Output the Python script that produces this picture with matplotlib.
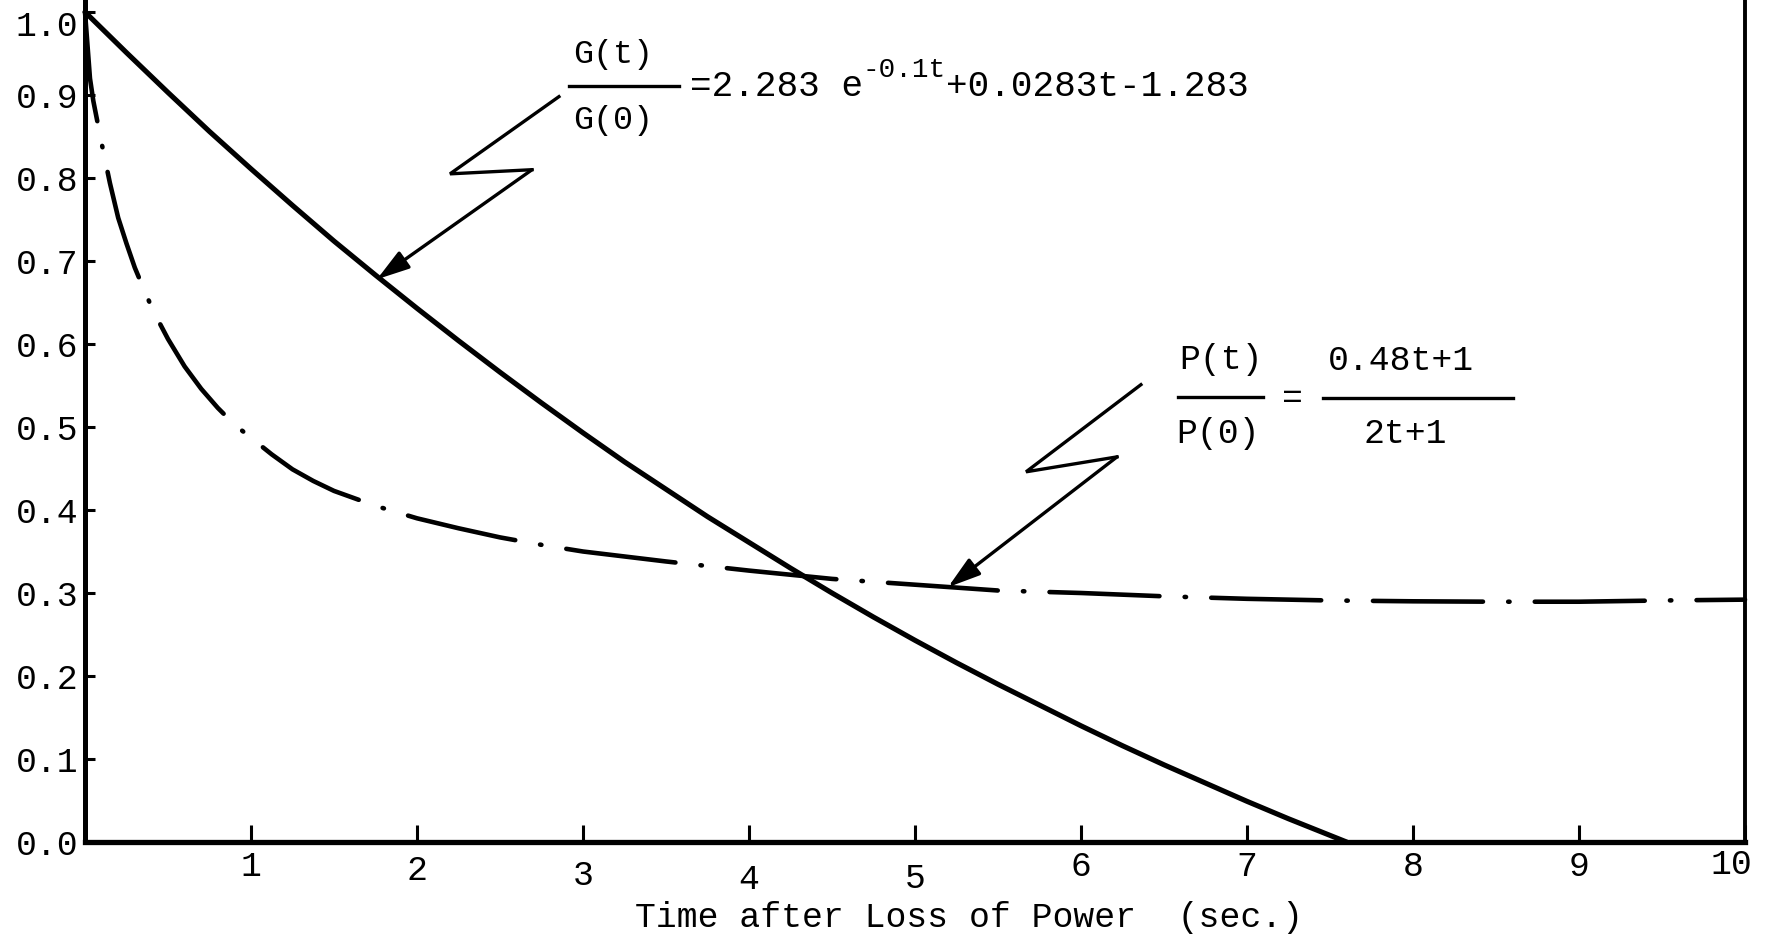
import matplotlib
matplotlib.use("Agg")
import matplotlib.pyplot as plt
from matplotlib.lines import Line2D
from matplotlib.transforms import ScaledTranslation

# ---- data -------------------------------------------------------------
# Normalised flow G(t)/G(0) (solid curve)
g_time = [0.0, 0.25, 0.5, 0.75, 1.0, 1.25, 1.5, 1.75, 2.0, 2.25, 2.5, 2.75,
          3.0, 3.25, 3.5, 3.75, 4.0, 4.25, 4.5, 4.75, 5.0, 5.25, 5.5, 5.75,
          6.0, 6.25, 6.5, 6.75, 7.0, 7.25, 7.5, 7.6]
g_ratio = [1.0, 0.951, 0.903, 0.856, 0.811, 0.767, 0.724, 0.683, 0.643, 0.604,
           0.566, 0.529, 0.493, 0.458, 0.425, 0.392, 0.361, 0.330, 0.300, 0.271,
           0.243, 0.216, 0.190, 0.165, 0.140, 0.116, 0.093, 0.071, 0.049, 0.028,
           0.008, 0.0]

# Normalised power P(t)/P(0) (dash-dot curve)
p_time = [0.0, 0.03, 0.05, 0.10, 0.15, 0.20, 0.25, 0.30, 0.35, 0.40, 0.45,
          0.50, 0.60, 0.70, 0.80, 0.90, 1.00, 1.125, 1.25, 1.375, 1.50, 1.75,
          2.00, 2.25, 2.50, 2.75, 3.00, 3.50, 4.00, 4.50, 5.00, 5.50, 6.00,
          6.50, 7.00, 7.50, 8.00, 8.50, 9.00, 9.50, 10.0]
p_ratio = [1.0, 0.920, 0.893, 0.842, 0.794, 0.752, 0.721, 0.692, 0.668, 0.645,
           0.625, 0.606, 0.573, 0.546, 0.523, 0.503, 0.487, 0.467, 0.449, 0.435,
           0.423, 0.405, 0.390, 0.378, 0.367, 0.358, 0.350, 0.338, 0.327, 0.317,
           0.310, 0.303, 0.300, 0.296, 0.293, 0.291, 0.290, 0.2895, 0.2895,
           0.291, 0.292]

x_ticks = [1, 2, 3, 4, 5, 6, 7, 8, 9, 10]
x_tick_labels = ["1", "2", "3", "4", "5", "6", "7", "8", "9", "10"]
y_ticks = [0.0, 0.1, 0.2, 0.3, 0.4, 0.5, 0.6, 0.7, 0.8, 0.9, 1.0]
y_tick_labels = ["0.0", "0.1", "0.2", "0.3", "0.4", "0.5", "0.6", "0.7", "0.8", "0.9", "1.0"]

x_label = "Time after Loss of Power  (sec.)"

# zig-zag leader lines: (t, ratio) vertices, last one is the arrow tip
g_leader = [(2.855, 0.898), (2.199, 0.805), (2.693, 0.810), (1.759, 0.678)]
p_leader = [(6.361, 0.551), (5.669, 0.446), (6.217, 0.464), (5.199, 0.307)]

# ---- figure -----------------------------------------------------------
W, H = 1774, 939
TYPE = "Liberation Mono"
plt.rcParams["font.family"] = [TYPE, "DejaVu Sans"]


def fx(px):
    return px / W


def fy(py):
    return 1 - py / H


fig = plt.figure(figsize=(W / 100, H / 100), dpi=100, facecolor="white")
ax = fig.add_axes([fx(85), fy(842), fx(1745) - fx(85), 842 / H])
ax.set_xlim(0, 10)
ax.set_ylim(0, 842 / 830)

ax.plot(g_time, g_ratio, color="black", lw=3.7, solid_capstyle="round",
        solid_joinstyle="round", clip_on=False, zorder=3)
ax.plot(p_time, p_ratio, color="black", lw=3.3,
        linestyle=(0, (24, 5.5, 0.3, 5.5)), dash_capstyle="round",
        dash_joinstyle="round", clip_on=False, zorder=3)

# leader lines with arrow heads
for leader in (g_leader, p_leader):
    xs = [v[0] for v in leader[:-1]]
    ys = [v[1] for v in leader[:-1]]
    ax.plot(xs, ys, color="black", lw=2.4, solid_joinstyle="miter", zorder=4)
    ax.annotate("", xy=leader[-1], xytext=leader[-2],
                arrowprops=dict(arrowstyle="-|>,head_length=0.55,head_width=0.17",
                                color="black", lw=2.4, mutation_scale=36,
                                shrinkA=0, shrinkB=0),
                zorder=4)

# frame
ax.spines["top"].set_visible(False)
ax.spines["left"].set_linewidth(3.6)
ax.spines["bottom"].set_linewidth(3.8)
ax.spines["right"].set_linewidth(2.8)

ax.set_xticks(x_ticks)
ax.set_xticklabels(x_tick_labels)
ax.set_yticks(y_ticks)
ax.set_yticklabels(y_tick_labels)
ax.tick_params(axis="x", direction="in", length=12, width=2.2, pad=10,
               labelsize=25)
ax.tick_params(axis="y", direction="in", length=7, width=2.2, pad=5,
               labelsize=25)

# typewritten labels do not sit on one exact line
x_shift_px = [(0, -6), (0, -2), (0, 3), (0, 7), (0, 6),
              (0, -6), (0, -6), (0, -6), (0, -6), (-14, -8)]
for lab, (dx, dy) in zip(ax.get_xticklabels(), x_shift_px):
    lab.set_transform(lab.get_transform()
                      + ScaledTranslation(dx / 100, -dy / 100, fig.dpi_scale_trans))
top_label = ax.get_yticklabels()[-1]
top_label.set_transform(top_label.get_transform()
                        + ScaledTranslation(0, -11 / 100, fig.dpi_scale_trans))

ax.set_xlabel(x_label, fontsize=25, va="center")
ax.xaxis.set_label_coords((969 - 85) / 1660, -(918 - 842) / 842)

# ---- equations --------------------------------------------------------
kw = dict(color="black", family=[TYPE, "DejaVu Sans"])

fig.text(fx(613), fy(55), "G(t)", ha="center", va="center", fontsize=24, **kw)
fig.text(fx(613), fy(121), "G(0)", ha="center", va="center", fontsize=24, **kw)
fig.add_artist(Line2D([fx(569), fx(679)], [fy(86), fy(86)], lw=2.4, color="black"))

renderer = fig.canvas.get_renderer()
t1 = fig.text(fx(690), fy(87), "=2.283 e", ha="left", va="center", fontsize=26, **kw)
bb = t1.get_window_extent(renderer)
t2 = fig.text(bb.x1 / W, fy(70), "-0.1t", ha="left", va="center", fontsize=20, **kw)
bb = t2.get_window_extent(renderer)
fig.text(bb.x1 / W, fy(87), "+0.0283t-1.283", ha="left", va="center", fontsize=26, **kw)

fig.text(fx(1221), fy(360), "P(t)", ha="center", va="center", fontsize=25, **kw)
fig.text(fx(1218), fy(433), "P(0)", ha="center", va="center", fontsize=25, **kw)
fig.add_artist(Line2D([fx(1178), fx(1263)], [fy(397), fy(397)], lw=2.4, color="black"))
fig.text(fx(1292), fy(398), "=", ha="center", va="center", fontsize=25, **kw)
fig.text(fx(1401), fy(360), "0.48t+1", ha="center", va="center", fontsize=25, **kw)
fig.add_artist(Line2D([fx(1323), fx(1513)], [fy(398), fy(398)], lw=2.4, color="black"))
fig.text(fx(1405), fy(433), "2t+1", ha="center", va="center", fontsize=25, **kw)

fig.savefig("out.png", dpi=100, facecolor="white")
